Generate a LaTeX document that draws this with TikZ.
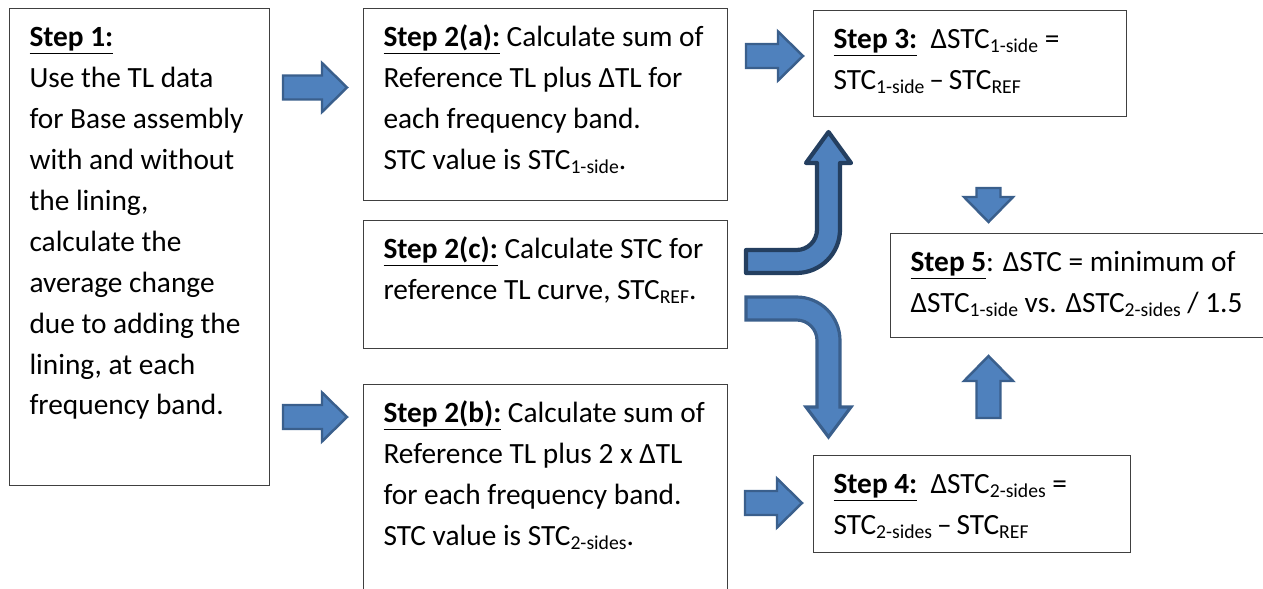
\documentclass[tikz,border=0pt]{standalone}
\usepackage{fontspec}
\setmainfont{Carlito}
\usepackage{xcolor}
\usepackage{tikz}
\usetikzlibrary{calc,positioning}

\definecolor{arrowfill}{HTML}{4F81BD}
\definecolor{arrowedge}{HTML}{3A5F8C}
\definecolor{arrowdark}{HTML}{243F60}
\definecolor{boxedge}{HTML}{404040}

\newcommand{\lo}[1]{\raisebox{-0.3ex}{\fontsize{11.2}{12}\selectfont #1}}
\newcommand{\steptitle}[1]{\underline{\textbf{#1}}}
\newcommand{\boxtext}[3]{\parbox[c][#1][t]{#2}{\raggedright\rule{0pt}{0.76cm}#3}}

\tikzset{
    pics/fatarrow/.style={code={
        \draw[blockarrow] (0,-12) -- ({#1-25},-12) -- ({#1-25},-24.5) -- (#1,0)
            -- ({#1-25},24.5) -- ({#1-25},12) -- (0,12) -- cycle;
    }}
}

\begin{document}
\begin{tikzpicture}[
    x=0.02cm, y=0.02cm,
    stepbox/.style={draw=boxedge, line width=0.6pt, anchor=north west, inner xsep=0.4cm, inner ysep=0pt, font=\fontsize{16.7}{23.3}\selectfont},
    blockarrow/.style={fill=arrowfill, draw=arrowedge, line width=1.4pt, line join=miter},
    darkarrow/.style={blockarrow, draw=arrowdark, line width=2.4pt, line join=round}
]
    \useasboundingbox (0,0) rectangle (1263,-588);

    % Step boxes
    \node[stepbox] (step1) at (9,-8) {\boxtext{9.54cm}{4.4cm}{%
        \steptitle{Step 1:}\\
        Use the TL data\\
        for Base assembly\\
        with and without\\
        the lining,\\
        calculate the\\
        average change\\
        due to adding the\\
        lining, at each\\
        frequency band.}};
    \node[stepbox] (step2a) at (363,-8) {\boxtext{3.84cm}{6.48cm}{%
        \steptitle{Step 2(a):} Calculate sum of\\
        Reference TL plus ΔTL for\\
        each frequency band.\\
        STC value is STC\lo{1-side}.}};
    \node[stepbox] (step2c) at (363,-220) {\boxtext{2.56cm}{6.48cm}{%
        \steptitle{Step 2(c):} Calculate STC for\\
        reference TL curve, STC\lo{REF}.}};
    \node[stepbox] (step2b) at (363,-384) {\boxtext{4.4cm}{6.48cm}{%
        \steptitle{Step 2(b):} Calculate sum of\\
        Reference TL plus 2 x ΔTL\\
        for each frequency band.\\
        STC value is STC\lo{2-sides}.}};
    \node[stepbox] (step3) at (813,-10) {\boxtext{2.12cm}{5.46cm}{%
        \steptitle{Step 3:}\ \ ΔSTC\lo{1-side} =\\
        STC\lo{1-side}\,–\,STC\lo{REF}}};
    \node[stepbox] (step4) at (813,-455) {\boxtext{1.94cm}{5.54cm}{%
        \steptitle{Step 4:}\ \ ΔSTC\lo{2-sides} =\\
        STC\lo{2-sides}\,–\,STC\lo{REF}}};
    \node[stepbox] (step5) at (890,-233) {\boxtext{2.08cm}{6.9cm}{%
        \steptitle{Step 5}: ΔSTC = minimum of\\
        ΔSTC\lo{1-side} vs. ΔSTC\lo{2-sides} / 1.5}};

    % Straight block arrows
    \foreach \x/\y/\len in {283/-87.5/64, 283/-417/64, 746/-56/57, 745/-503/57}
        \pic at (\x,\y) {fatarrow=\len};
    \pic[rotate=-90] at (988.5,-188) {fatarrow=34};
    \pic[rotate=90] at (988.5,-418) {fatarrow=62};

    % Bent arrows out of step 2(c)
    \draw[darkarrow] (746,-250) -- (796.5,-250) arc[start angle=-90, end angle=0, radius=0.41cm]
        -- (817,-163) -- (806,-163) -- (828.5,-132) -- (851,-163) -- (840,-163)
        -- (840,-229.5) arc[start angle=0, end angle=-90, radius=0.87cm] -- (746,-273) -- cycle;
    \draw[blockarrow, line width=1.8pt] (746,-297) -- (796.5,-297) arc[start angle=90, end angle=0, radius=0.87cm]
        -- (840,-407) -- (851,-407) -- (828.5,-437) -- (806,-407) -- (817,-407)
        -- (817,-340.5) arc[start angle=0, end angle=90, radius=0.41cm] -- (746,-320) -- cycle;
\end{tikzpicture}
\end{document}
